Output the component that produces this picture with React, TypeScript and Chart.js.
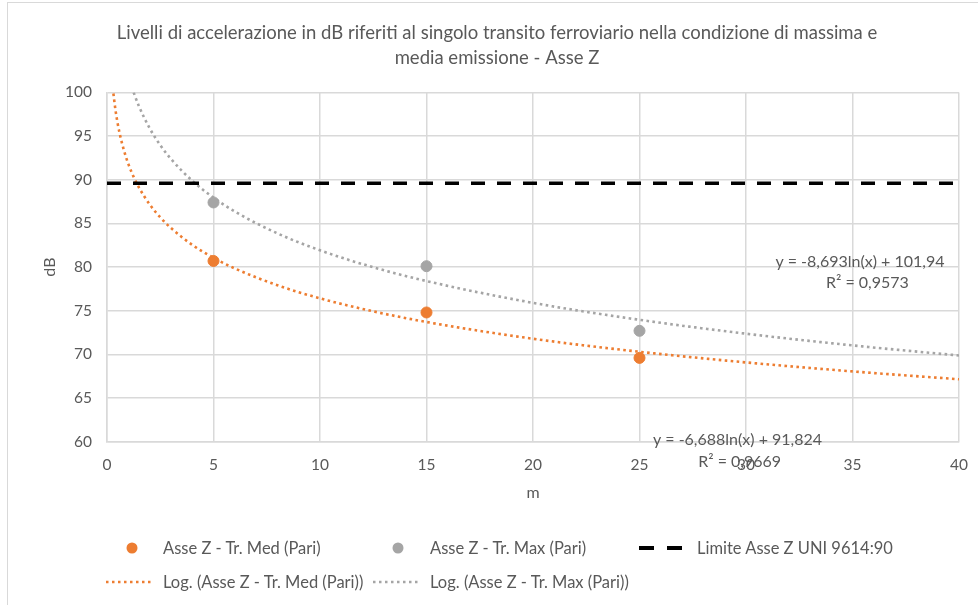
import React, { useEffect, useRef } from "react";
import { Chart, registerables } from "chart.js";

Chart.register(...registerables);

const titleLines = [
  "Livelli di accelerazione in dB riferiti al singolo transito ferroviario nella condizione di massima e",
  "media emissione - Asse Z",
];

const distances = [5, 15, 25];
const medValues = [80.7, 74.8, 69.6];
const maxValues = [87.4, 80.1, 72.7];

const limitX = [0, 40];
const limitValues = [89.6, 89.6];

const medTrendX = [0.3, 0.4, 0.5, 0.6, 0.8, 1, 1.25, 1.5, 2, 2.5, 3, 4, 5, 6, 8, 10, 12.5, 15, 20, 25, 30, 35, 40];
const medTrendY = [99.88, 97.95, 96.46, 95.24, 93.32, 91.82, 90.33, 89.11, 87.19, 85.7, 84.48, 82.55, 81.06, 79.84, 77.92, 76.42, 74.93, 73.71, 71.79, 70.3, 69.08, 68.05, 67.15];

const maxTrendX = [1.25, 1.5, 2, 2.5, 3, 4, 5, 6, 8, 10, 12.5, 15, 20, 25, 30, 35, 40];
const maxTrendY = [100.0, 98.42, 95.91, 93.97, 92.39, 89.89, 87.95, 86.36, 83.86, 81.92, 79.98, 78.4, 75.9, 73.96, 72.37, 71.03, 69.87];

const seriesNames = [
  "Asse Z - Tr. Med (Pari)",
  "Asse Z - Tr. Max (Pari)",
  "Limite Asse Z UNI 9614:90",
  "Log. (Asse Z - Tr. Med (Pari))",
  "Log. (Asse Z - Tr. Max (Pari))",
];

const equations = [
  { lines: ["y = -8,693ln(x) + 101,94", "R² = 0,9573"], x: [35.35, 35.7], y: [80.6, 78.2] },
  { lines: ["y = -6,688ln(x) + 91,824", "R² = 0,9669"], x: [29.6, 29.7], y: [60.2, 57.7] },
];

const ORANGE = "#ED7D31";
const GREY = "#A5A5A5";
const TEXT = "#595959";
const GRID = "#D9D9D9";
const FONT = "Lato, 'Liberation Sans', sans-serif";

const pts = (xs: number[], ys: number[]) => xs.map((x, i) => ({ x, y: ys[i] }));

const equationPlugin = {
  id: "equations",
  afterDraw(chart: any) {
    const ctx = chart.ctx;
    const xs = chart.scales.x;
    const ys = chart.scales.y;
    ctx.save();
    ctx.font = `16px ${FONT}`;
    ctx.fillStyle = TEXT;
    ctx.textAlign = "center";
    ctx.textBaseline = "middle";
    equations.forEach((eq) => {
      eq.lines.forEach((line, i) => {
        ctx.fillText(line, xs.getPixelForValue(eq.x[i]), ys.getPixelForValue(eq.y[i]));
      });
    });
    ctx.restore();
  },
};

export default function App() {
  const ref = useRef<HTMLCanvasElement>(null);

  useEffect(() => {
    const chart = new Chart(ref.current!, {
      type: "scatter",
      data: {
        datasets: [
          {
            label: seriesNames[3],
            data: pts(medTrendX, medTrendY),
            showLine: true,
            borderColor: ORANGE,
            borderWidth: 2.6,
            borderDash: [2.6, 3.4],
            pointRadius: 0,
            cubicInterpolationMode: "monotone",
            order: 3,
          },
          {
            label: seriesNames[4],
            data: pts(maxTrendX, maxTrendY),
            showLine: true,
            borderColor: GREY,
            borderWidth: 2.6,
            borderDash: [2.6, 3.4],
            pointRadius: 0,
            cubicInterpolationMode: "monotone",
            order: 4,
          },
          {
            label: seriesNames[2],
            data: pts(limitX, limitValues),
            showLine: true,
            borderColor: "#000000",
            borderWidth: 3.5,
            borderDash: [14, 12],
            pointRadius: 0,
            order: 2,
          },
          {
            label: seriesNames[1],
            data: pts(distances, maxValues),
            backgroundColor: GREY,
            borderColor: GREY,
            pointRadius: 5.5,
            order: 1,
          },
          {
            label: seriesNames[0],
            data: pts(distances, medValues),
            backgroundColor: ORANGE,
            borderColor: ORANGE,
            pointRadius: 5.5,
            order: 0,
          },
        ],
      },
      options: {
        responsive: false,
        animation: false,
        layout: { padding: { left: 35, right: 19, top: 0, bottom: 103 } },
        plugins: {
          legend: { display: false },
          tooltip: { enabled: false },
          title: {
            display: true,
            text: titleLines,
            color: TEXT,
            font: { family: FONT, size: 18.5, weight: "normal", lineHeight: 1.35 },
            padding: { top: 20.5, bottom: 22 },
          },
        },
        scales: {
          x: {
            type: "linear",
            min: 0,
            max: 40,
            afterFit: (s: any) => {
              s.height = 60.3;
              s.paddingLeft = 0;
              s.paddingRight = 8;
            },
            ticks: { stepSize: 5, color: TEXT, font: { family: FONT, size: 15.5 }, padding: 14 },
            grid: { color: GRID, drawTicks: false, lineWidth: 1.5 },
            border: { color: GRID, width: 1.5 },
            title: {
              display: true,
              text: "m",
              color: TEXT,
              font: { family: FONT, size: 16 },
              padding: { top: 10, bottom: 0 },
            },
          },
          y: {
            min: 60,
            max: 100,
            afterFit: (s: any) => {
              s.width = 72;
            },
            ticks: { stepSize: 5, color: TEXT, font: { family: FONT, size: 15.5 }, padding: 15 },
            grid: { color: GRID, drawTicks: false, lineWidth: 1.5 },
            border: { color: GRID, width: 1.5 },
            title: {
              display: true,
              text: "dB",
              color: TEXT,
              font: { family: FONT, size: 16 },
              padding: { top: 5, bottom: 9 },
            },
          },
        },
      },
      plugins: [equationPlugin],
    });
    return () => chart.destroy();
  }, []);

  const legendText: React.CSSProperties = {
    position: "absolute",
    font: `16.5px ${FONT}`,
    color: TEXT,
    whiteSpace: "nowrap",
    lineHeight: "20px",
  };

  return (
    <div style={{ position: "fixed", left: 0, top: 0, width: 978, height: 605, background: "#fff" }}>
      <div style={{ position: "absolute", left: 7, top: 2, width: 971, height: 1, background: GRID }} />
      <div style={{ position: "absolute", left: 7, top: 2, width: 1, height: 603, background: GRID }} />
      <canvas ref={ref} width={978} height={605} style={{ position: "absolute", left: 0, top: 0 }} />
      <svg width={978} height={605} style={{ position: "absolute", left: 0, top: 0, pointerEvents: "none" }}>
        <circle cx={132} cy={548} r={5.5} fill={ORANGE} />
        <circle cx={398} cy={548} r={5.5} fill={GREY} />
        <line x1={639} y1={548} x2={682} y2={548} stroke="#000" strokeWidth={4} strokeDasharray="15 13" />
        <line x1={106} y1={582} x2={154} y2={582} stroke={ORANGE} strokeWidth={2.5} strokeDasharray="2.5 3.5" />
        <line x1={373} y1={582} x2={421} y2={582} stroke={GREY} strokeWidth={2.5} strokeDasharray="2.5 3.5" />
      </svg>
      <div style={{ ...legendText, left: 163, top: 538 }}>{seriesNames[0]}</div>
      <div style={{ ...legendText, left: 430, top: 538 }}>{seriesNames[1]}</div>
      <div style={{ ...legendText, left: 697, top: 538 }}>{seriesNames[2]}</div>
      <div style={{ ...legendText, left: 163, top: 572 }}>{seriesNames[3]}</div>
      <div style={{ ...legendText, left: 430, top: 572 }}>{seriesNames[4]}</div>
    </div>
  );
}
